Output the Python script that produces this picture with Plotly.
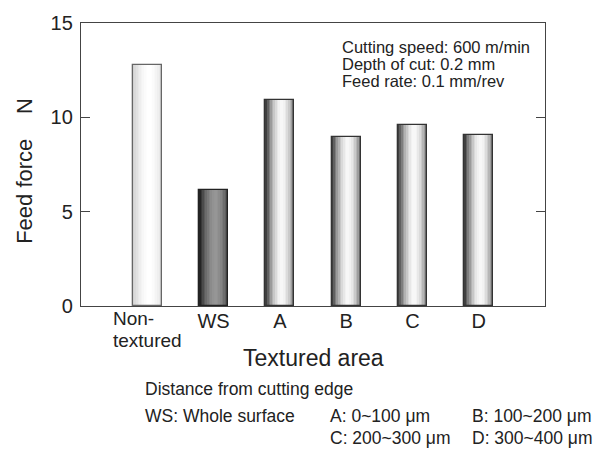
import plotly.graph_objects as go

# ---- data ----
categories = ["Non-textured", "WS", "A", "B", "C", "D"]
tick_labels = ["", "WS", "A", "B", "C", "D"]
first_label_lines = ["Non-", "textured"]
feed_force = [12.8, 6.15, 10.93, 8.95, 9.6, 9.07]
y_ticks = [0, 5, 10, 15]

# ---- styles ----
W, H = 608, 449
L, R, T, B = 81, 545, 16, 306
edge_colors = [(205, 205, 205), (25, 25, 25), (45, 45, 45), (45, 45, 45), (45, 45, 45), (45, 45, 45)]
center_colors = [(255, 255, 255), (150, 150, 150), (248, 248, 248), (248, 248, 248), (248, 248, 248), (248, 248, 248)]
outline_colors = ["#666666", "#222222", "#333333", "#333333", "#333333", "#333333"]
BAR_W = 0.44
N_STRIPS = 18
PEAK = 0.56
FONT = "Liberation Sans, Arial, sans-serif"
TXT = "#222222"


def px_x(px):
    return (px - L) / (R - L)


def px_y(py):
    return (B - py) / (B - T)


def strip_color(i, t):
    d = abs(t - PEAK) / max(PEAK, 1 - PEAK)
    f = 1 - d ** 1.8
    e, c = edge_colors[i], center_colors[i]
    rgb = [round(e[k] + (c[k] - e[k]) * f) for k in range(3)]
    return "rgb(%d,%d,%d)" % tuple(rgb)


fig = go.Figure()
s = BAR_W / N_STRIPS
for j in range(N_STRIPS):
    t = (j + 0.5) / N_STRIPS
    left = -BAR_W / 2 + j * s
    width = min(1.6 * s, BAR_W / 2 - left)
    fig.add_trace(go.Bar(
        x=categories, y=feed_force,
        offset=left, width=width,
        marker=dict(color=[strip_color(i, t) for i in range(len(categories))], line=dict(width=0)),
        showlegend=False, hoverinfo="skip",
    ))
fig.add_trace(go.Bar(
    x=categories, y=feed_force, width=BAR_W,
    marker=dict(color="rgba(0,0,0,0)", line=dict(color=outline_colors, width=1.3)),
    showlegend=False,
))

fig.update_layout(
    width=W, height=H,
    margin=dict(l=L, r=W - R, t=T, b=H - B, pad=0),
    paper_bgcolor="white", plot_bgcolor="white",
    barmode="overlay", bargap=0,
    font=dict(family=FONT, color=TXT),
    xaxis=dict(
        type="category", range=[-1, 6], tickvals=categories, ticktext=tick_labels,
        showline=True, mirror=True, linecolor="#444444", linewidth=1.3,
        ticks="", showgrid=False, zeroline=False,
        tickfont=dict(size=20, color=TXT, family=FONT), ticklabelstandoff=-3,
    ),
    yaxis=dict(
        range=[0, 15], tickvals=y_ticks, ticktext=[str(v) for v in y_ticks],
        showline=True, mirror="ticks", linecolor="#444444", linewidth=1.3,
        ticks="inside", ticklen=9, tickcolor="#444444", tickwidth=1.2,
        showgrid=False, zeroline=False,
        tickfont=dict(size=20, color=TXT, family=FONT), ticklabelstandoff=3,
    ),
)

ann = []
# first category label, two left-aligned lines
for k, line in enumerate(first_label_lines):
    ann.append(dict(text=line, x=categories[0], xref="x", xanchor="left", xshift=-36,
                    y=px_y(319 + 22 * k), yref="paper",
                    font=dict(size=19, color=TXT, family=FONT)))
ann.append(dict(text="Feed force", x=px_x(25), y=px_y(189), textangle=-90,
                font=dict(size=22, color=TXT, family=FONT)))
ann.append(dict(text="N", x=px_x(25), y=px_y(101), textangle=-90,
                font=dict(size=22, color=TXT, family=FONT)))
ann.append(dict(text="Textured area", x=px_x(313), y=px_y(359), font=dict(size=23, color=TXT, family=FONT)))
cond = ["Cutting speed: 600 m/min", "Depth of cut: 0.2 mm", "Feed rate: 0.1 mm/rev"]
for k, line in enumerate(cond):
    ann.append(dict(text=line, x=px_x(340), y=px_y(41 + 17 * k), xanchor="left",
                    font=dict(size=16.5, color=TXT, family=FONT)))
notes = [
    ("Distance from cutting edge", 143, 391),
    ("WS: Whole surface", 143, 419),
    ("A: 0~100 \u03bcm", 328, 419),
    ("B: 100~200 \u03bcm", 470, 419),
    ("C: 200~300 \u03bcm", 328, 441),
    ("D: 300~400 \u03bcm", 470, 441),
]
for txt, xx, yy in notes:
    ann.append(dict(text=txt, x=px_x(xx), y=px_y(yy), xanchor="left",
                    font=dict(size=17.5, color=TXT, family=FONT)))
for a in ann:
    a.setdefault("xref", "paper")
    a.setdefault("yref", "paper")
    a["showarrow"] = False
    a.setdefault("xanchor", "center")
    a.setdefault("yanchor", "middle")
fig.update_layout(annotations=ann)

fig.write_html("out.html", config={"displayModeBar": False},
               post_script="document.body.style.margin='0';document.body.style.padding='0';")
